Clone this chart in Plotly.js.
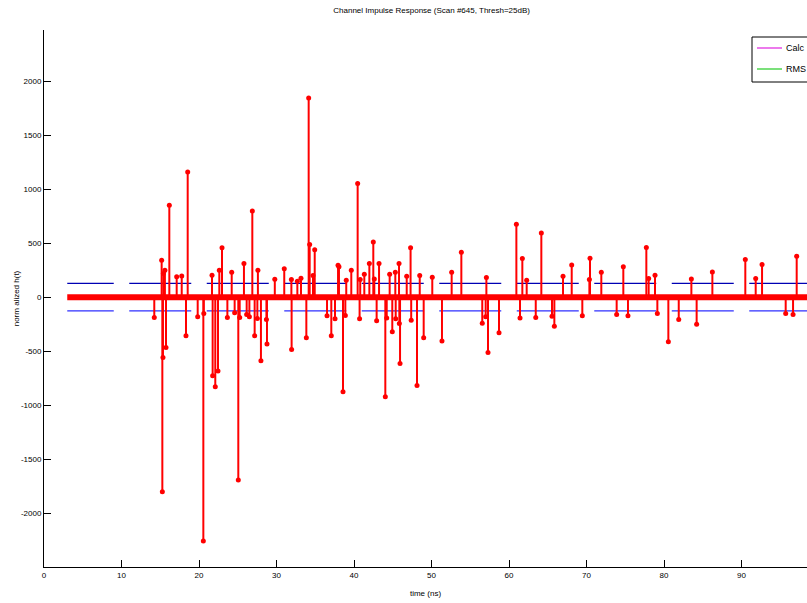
<!DOCTYPE html>
<html>
<head>
<meta charset="utf-8">
<script src="https://cdn.plot.ly/plotly-3.0.1.min.js"></script>
<style>html,body{margin:0;padding:0;background:#fff;overflow:hidden}#chart{width:807px;height:603px}</style>
</head>
<body>
<div id="chart"></div>
<script>
// ---- data ----
const stemX = [14.23,15.18,15.27,15.35,15.4,15.6,15.74,16.17,17.12,17.77,18.32,18.54,19.83,20.56,20.62,21.68,21.76,22.1,22.45,22.62,22.97,23.66,24.22,24.6,25.07,25.25,25.8,26.15,26.5,26.88,27.18,27.53,27.6,27.99,28.7,28.77,29.78,
  31.0,31.92,31.95,32.69,33.16,33.85,34.15,34.28,34.71,34.93,36.52,37.07,37.55,37.94,38.06,38.58,38.88,39.0,39.65,40.47,40.72,40.8,41.33,41.98,42.49,42.62,42.92,43.23,44.04,44.22,44.6,44.94,45.33,45.38,45.81,45.85,45.94,46.8,47.3,47.38,48.13,48.48,48.99,
  50.1,51.35,52.6,53.85,56.55,56.99,57.08,57.29,58.71,60.95,61.42,61.72,62.28,63.45,64.17,65.55,65.85,66.97,68.09,69.46,70.37,70.45,71.91,73.89,74.75,75.35,77.72,78.02,78.84,79.14,80.56,81.9,83.53,84.21,86.24,90.49,91.83,92.65,95.7,96.65,97.12];
const stemY = [-188,342,-1803,-559,219,250,-466,852,188,197,-358,1160,-182,-2260,-151,204,-728,-830,-685,250,457,-188,231,-145,-1694,-188,312,-160,-182,799,-358,-197,250,-590,-206,-435,165,
  262,164,-484,148,176,-377,1845,488,201,438,-173,-358,-201,296,281,-877,-169,157,250,1053,-201,164,213,312,512,169,-219,312,-923,-192,213,-321,231,-201,312,-244,-614,194,457,-213,-818,201,-377,
  185,-407,231,417,-241,-182,182,-512,-330,676,-192,358,157,-188,595,-176,-269,194,299,-173,164,361,231,-160,281,-173,460,173,204,-151,-414,-206,169,-250,234,349,173,303,-151,-160,380];
const threshStart = [3,11,21,31,41,51,61,71,81,91];
const threshEnd   = [9,19,29,39,49,59,69,79,89,99];
const threshLevel = 127;           // 25 dB below the peak
const baseStart = 3, baseEnd = 100;
const legendNames = ['Calc','RMS threshold'];
const legendColors = ['#e020e0','#22cc22'];
const xTicks = [0,10,20,30,40,50,60,70,80,90];
const yTicks = [-2000,-1500,-1000,-500,0,500,1000,1500,2000];

// ---- build traces ----
const sx = [], sy = [];
stemX.forEach((x,i)=>{ sx.push(x,x,null); sy.push(0,stemY[i],null); });
const tux = [], tuy = [], tlx = [], tly = [];
threshStart.forEach((s,i)=>{
  tux.push(s,threshEnd[i],null); tuy.push(threshLevel,threshLevel,null);
  tlx.push(s,threshEnd[i],null); tly.push(-threshLevel,-threshLevel,null);
});
const FONT = 'Liberation Sans, Arial, sans-serif';
const traces = [
  {x:tux,y:tuy,mode:'lines',line:{color:'#0000b4',width:1.3},showlegend:false,hoverinfo:'skip'},
  {x:tlx,y:tly,mode:'lines',line:{color:'#2f2fff',width:1.3},showlegend:false,hoverinfo:'skip'},
  {x:[baseStart,baseEnd],y:[0,0],mode:'lines',line:{color:'#ff0000',width:6},showlegend:false,hoverinfo:'skip'},
  {x:sx,y:sy,mode:'lines',line:{color:'#ff0000',width:2},showlegend:false,hoverinfo:'skip'},
  {x:stemX,y:stemY,mode:'markers',marker:{color:'#ff0000',size:5},showlegend:false,hoverinfo:'skip'}
];

// ---- legend box (Matlab style, partly outside the window like the reference) ----
const L = 44, W = 763, T = 30, H = 537;             // plot area in pixels
const px = p => (p - L) / W, py = p => (T + H - p) / H;
const shapes = [{type:'rect',xref:'paper',yref:'paper',x0:px(752),x1:px(840),y0:py(82),y1:py(37),
                 line:{color:'#000',width:1},fillcolor:'#fff',layer:'above'}];
const annotations = [];
legendNames.forEach((n,i)=>{
  const yy = 48 + i*21;
  shapes.push({type:'line',xref:'paper',yref:'paper',x0:px(757),x1:px(782),y0:py(yy),y1:py(yy),
               line:{color:legendColors[i],width:1.2},layer:'above'});
  annotations.push({xref:'paper',yref:'paper',x:px(784),y:py(yy),xanchor:'left',yanchor:'middle',
                    text:n,showarrow:false,font:{family:FONT,size:9,color:'#000'}});
});

const layout = {
  width:807,height:603,
  margin:{l:L,r:0,t:T,b:36,pad:0,autoexpand:false},
  paper_bgcolor:'#ffffff',plot_bgcolor:'#ffffff',
  font:{family:FONT,size:8,color:'#000'},
  title:{text:'Channel Impulse Response (Scan #645, Thresh=25dB)',font:{family:FONT,size:8,color:'#000'},
         x:0.508,xref:'paper',xanchor:'center',y:0.988,yref:'container',yanchor:'top'},
  showlegend:false,
  shapes:shapes, annotations:annotations,
  xaxis:{range:[0,98.45],automargin:false,showline:true,linecolor:'#000',linewidth:1,mirror:false,zeroline:false,showgrid:false,
         ticks:'inside',ticklen:7,tickcolor:'#000',tickvals:xTicks,ticktext:xTicks.map(String),
         tickfont:{family:FONT,size:8},
         title:{text:'time (ns)',font:{family:FONT,size:8},standoff:11}},
  yaxis:{range:[-2500,2475],automargin:false,showline:true,linecolor:'#000',linewidth:1,zeroline:false,showgrid:false,
         ticks:'inside',ticklen:7,tickcolor:'#000',tickvals:yTicks,ticktext:yTicks.map(String),
         tickfont:{family:FONT,size:8},
         title:{text:'norm alized h(t)',font:{family:FONT,size:8},standoff:0}}
};
Plotly.newPlot('chart',traces,layout,{displayModeBar:false,staticPlot:true});
</script>
</body>
</html>
